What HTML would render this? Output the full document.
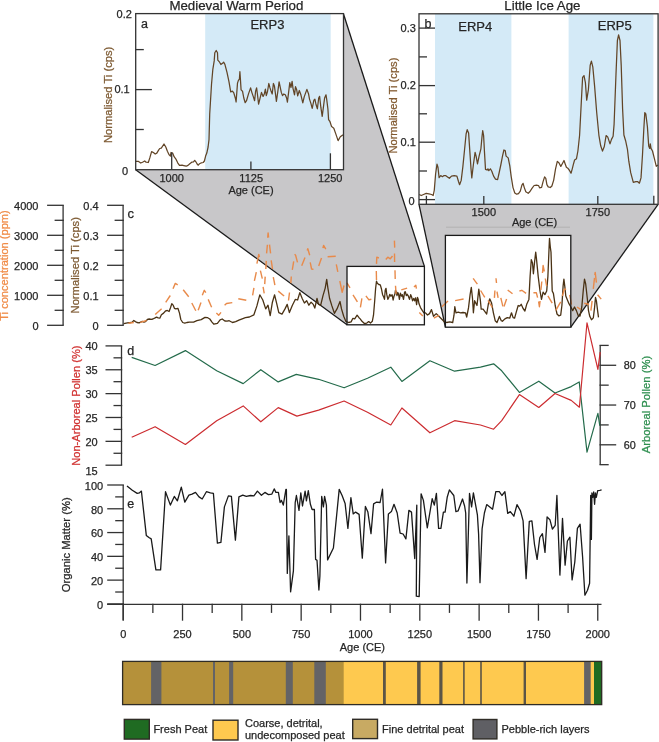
<!DOCTYPE html>
<html><head><meta charset="utf-8"><title>Figure</title>
<style>
html,body{margin:0;padding:0;background:#fff;}
svg{display:block;will-change:transform;}
text{font-family:"Liberation Sans",sans-serif;}
</style></head><body>
<svg width="659" height="742" viewBox="0 0 659 742">
<rect width="659" height="742" fill="#fff"/>

<polygon points="135.7,169.7 343.5,14 424.4,266.4 347,324.8" fill="#c8c7c9"/>
<polygon points="419,204.3 658.1,204.3 570.8,327.2 445.4,327.2" fill="#c8c7c9"/>
<line x1="135.7" y1="169.7" x2="347" y2="324.8" stroke="#1a1a1a" stroke-width="1.3"/>
<line x1="343.5" y1="14" x2="424.4" y2="266.4" stroke="#1a1a1a" stroke-width="1.3"/>
<line x1="419" y1="204.3" x2="445.4" y2="327.2" stroke="#1a1a1a" stroke-width="1.3"/>
<line x1="658.1" y1="204.3" x2="570.8" y2="327.2" stroke="#1a1a1a" stroke-width="1.3"/>
<line x1="446" y1="227.2" x2="570" y2="227.2" stroke="#b2b1b3" stroke-width="1"/>
<rect x="135.7" y="13.6" width="207.8" height="156.1" fill="#fff"/>
<rect x="205.2" y="13.6" width="125.5" height="156.1" fill="#d4eaf7"/>
<rect x="419" y="13.8" width="239.1" height="190.5" fill="#fff"/>
<rect x="435" y="13.8" width="76.4" height="190.5" fill="#d4eaf7"/>
<rect x="568.6" y="13.8" width="84.8" height="190.5" fill="#d4eaf7"/>
<rect x="347" y="266.4" width="77.4" height="58.4" fill="#fff"/>
<rect x="445.4" y="235.4" width="125.4" height="91.8" fill="#fff"/>
<polyline points="135.8,161.3 138.2,161.3 140.7,163.0 142.5,162.2 144.7,161.0 146.1,162.2 148.3,162.5 149.8,157.9 151.6,151.6 153.4,152.5 155.2,154.0 156.8,153.1 158.3,150.6 159.7,148.5 161.3,148.2 164.0,144.0 165.8,147.0 167.4,151.2 169.2,154.9 170.4,156.1 171.0,152.5 172.6,153.1 174.1,156.7 175.9,159.1 177.7,162.8 179.5,165.4 182.0,165.2 183.8,165.6 186.2,166.2 188.0,165.4 189.8,163.7 191.7,162.2 193.5,161.8 194.7,160.3 195.9,161.8 197.1,164.0 198.3,165.2 199.6,163.7 201.4,162.8 203.2,162.5 204.4,161.0 205.6,156.1 206.8,153.1 208.1,147.0 209.0,139.7 209.7,114.2 211.5,84.5 212.8,69.7 214.2,60.9 214.8,52.8 216.2,50.5 217.5,52.8 217.8,60.2 219.6,62.2 220.9,64.5 222.2,63.6 223.6,62.2 224.9,64.3 227.0,72.4 229.0,81.8 230.7,91.9 232.4,91.2 233.7,92.6 235.3,98.0 236.1,102.0 237.5,83.1 238.4,80.4 239.4,79.1 239.9,71.7 240.4,79.1 241.1,89.9 242.5,91.2 243.8,98.0 245.2,102.7 246.5,100.7 248.5,93.9 250.6,87.9 251.9,92.6 253.3,96.6 254.6,100.7 255.6,91.2 256.6,87.9 257.4,94.0 258.6,104.1 259.9,98.8 261.5,92.4 263.1,96.4 264.3,94.0 265.4,89.1 266.3,95.6 267.5,91.6 268.8,83.5 270.0,87.9 271.2,91.6 272.2,94.0 273.4,83.5 274.4,85.9 275.6,94.8 276.4,101.3 277.7,92.4 279.1,81.8 280.1,86.7 281.3,92.4 282.5,95.6 283.7,94.0 285.3,94.8 286.6,98.0 287.4,102.1 288.6,92.4 289.8,82.7 291.0,87.5 292.1,81.4 293.0,88.3 294.5,94.8 295.5,86.7 296.6,89.4 297.7,95.9 299.3,90.5 300.9,94.8 302.8,102.9 304.2,96.9 306.9,89.4 308.5,93.7 309.5,99.1 310.9,103.4 312.2,108.3 313.9,100.2 314.9,99.1 316.0,104.5 317.4,108.8 318.7,98.0 319.6,96.4 320.9,107.7 322.2,116.3 323.6,105.6 324.6,98.0 326.0,94.8 326.8,100.2 327.9,108.8 328.6,119.6 330.0,121.7 331.6,126.6 333.8,128.2 335.7,133.6 338.1,140.6 340.3,136.8 342.4,135.2 343.0,135.2" fill="none" stroke="#624527" stroke-width="1.25" stroke-linejoin="round"/>
<polyline points="419.2,194.5 421.3,195.5 423.5,194.5 426.2,193.4 428.9,193.9 431.6,194.5 433.2,195.5 434.3,190.1 435.6,174.0 437.0,164.2 438.0,167.5 439.1,177.7 440.7,175.6 442.4,176.7 444.0,175.6 445.6,175.6 447.2,176.7 449.4,178.3 451.5,176.1 454.2,175.6 456.9,176.1 458.5,181.5 459.6,184.7 461.2,180.4 462.9,166.4 464.5,150.2 466.1,134.0 467.2,129.7 468.6,132.9 469.9,152.4 471.0,168.6 471.8,177.9 473.4,164.5 475.1,152.4 476.1,156.1 477.5,163.9 479.1,156.1 480.9,148.8 481.9,137.9 482.7,130.6 483.6,135.5 484.5,152.4 485.5,169.4 487.0,170.0 487.9,168.8 488.8,170.6 490.4,168.8 491.8,171.2 493.6,176.1 495.5,179.1 497.6,179.7 499.1,173.0 500.9,164.5 502.5,156.1 503.9,150.0 505.2,150.6 506.1,156.1 508.2,157.9 509.8,165.8 511.2,176.7 513.0,187.6 514.8,193.0 516.7,194.2 518.5,193.6 520.3,191.2 521.9,185.2 523.1,183.3 524.3,187.6 525.8,191.8 528.2,193.3 530.0,191.5 531.8,188.7 534.1,185.5 536.4,185.1 538.5,185.5 539.6,187.8 541.6,187.4 543.0,181.9 544.6,176.9 545.8,178.3 546.9,184.6 548.2,186.9 550.3,187.5 551.9,186.0 553.7,180.1 555.5,169.1 557.3,161.4 558.9,162.8 560.8,166.4 562.3,163.7 564.0,160.5 565.1,163.7 566.4,167.3 567.8,168.2 569.2,170.0 571.0,173.2 572.2,169.1 573.3,164.6 574.6,160.0 576.5,158.7 577.9,151.0 579.6,135.3 581.4,100.2 582.6,77.4 584.0,75.6 585.4,82.6 586.7,100.2 588.4,89.6 590.2,65.1 591.4,61.2 592.8,66.8 594.6,86.1 596.7,112.5 598.9,135.3 600.7,145.8 602.5,151.1 604.3,146.5 606.1,135.6 607.7,136.9 610.0,143.9 611.5,139.4 613.1,136.2 614.1,124.1 616.0,73.9 617.4,40.5 618.6,34.9 620.0,40.5 621.2,65.1 622.6,108.9 623.9,135.0 625.6,140.7 627.5,149.7 628.8,161.2 630.7,172.7 633.3,182.3 635.9,181.7 637.8,181.7 639.4,183.2 641.0,177.9 642.5,154.8 643.8,129.2 644.8,112.6 645.8,113.8 647.4,126.6 648.7,145.9 649.7,148.4 650.3,143.9 651.0,148.4 652.5,151.0 654.4,158.7 656.3,166.3 657.9,165.1" fill="none" stroke="#624527" stroke-width="1.25" stroke-linejoin="round"/>
<polyline points="123.7,323.7 127.4,322.9 130.6,322.5 132.2,322.1 133.8,320.5 135.4,321.6 137.0,322.5 139.1,322.9 140.7,322.1 142.3,321.4 143.9,322.1 145.5,321.6 147.4,319.5 149.2,319.0 151.3,319.3 152.9,319.0 155.1,317.9 156.6,317.1 158.2,317.9 159.8,318.2 161.4,314.7 163.6,313.1 165.7,310.8 167.3,310.5 169.1,311.5 170.5,307.8 171.8,303.6 173.1,305.1 174.4,308.3 175.8,308.9 177.9,308.3 179.5,313.1 180.8,319.5 182.7,322.5 184.8,323.2 186.9,322.5 189.3,322.1 193.6,322.1 196.9,320.7 201.2,319.6 205.0,317.4 207.7,317.7 209.8,319.0 212.0,322.1 213.9,324.2 217.4,323.3 220.1,319.9 222.2,319.0 224.9,321.0 227.1,321.2 229.2,320.7 232.5,322.5 235.7,321.7 238.9,320.1 242.2,318.8 245.4,317.7 249.4,317.0 253.9,314.8 256.9,305.9 259.8,294.8 262.8,300.0 265.7,308.9 268.0,305.2 270.2,315.6 272.4,302.2 274.6,294.8 276.9,304.4 278.8,312.6 282.0,314.1 285.0,308.9 287.2,304.4 289.4,312.6 292.4,305.2 295.4,299.3 297.6,300.0 299.8,292.6 302.2,298.5 304.4,303.0 306.7,300.7 308.9,305.2 311.1,302.2 313.3,304.4 314.8,308.1 317.0,298.5 318.5,304.4 320.7,305.2 323.0,295.6 325.2,288.1 326.7,279.3 327.9,288.1 329.6,298.5 331.9,305.9 334.4,313.3 337.0,308.9 340.0,301.5 341.5,308.9 343.7,316.3 345.9,321.5 348.6,322.5 351.1,321.9 352.9,318.3 354.7,318.9 357.1,315.2 359.0,317.7 360.2,318.9 362.0,321.3 364.4,323.5 366.8,323.1 368.7,321.6 370.5,323.1 372.3,321.3 373.5,315.2 374.7,300.7 375.6,288.5 376.5,281.1 377.3,283.3 378.8,284.5 380.3,284.9 381.4,288.7 382.6,294.7 383.7,297.0 384.5,299.3 385.2,290.2 386.0,288.3 386.8,294.7 387.9,299.3 388.7,297.8 389.8,294.3 390.9,296.2 392.1,294.7 393.1,300.0 394.0,296.2 394.9,294.0 395.5,290.2 396.2,291.7 397.0,295.5 397.8,292.5 398.5,294.0 399.4,299.3 400.4,293.2 401.6,296.2 402.3,294.7 403.5,299.3 404.6,292.1 405.3,291.7 406.3,295.5 407.2,294.3 408.4,296.2 409.5,299.3 410.7,294.7 411.6,297.0 412.6,300.8 413.7,298.5 414.6,300.8 415.6,297.8 416.6,304.6 417.5,297.4 418.2,299.3 419.0,303.8 420.5,307.6 422.4,310.7 423.9,312.9 425.5,312.9 427.5,315.0 429.5,313.6 431.5,309.6 433.5,316.3 436.2,313.6 438.9,316.3 441.6,319.0 444.3,321.7 446.7,322.5 449.7,321.9 452.7,322.5 454.0,315.2 454.8,306.7 456.0,312.8 458.2,312.2 460.6,312.8 463.0,312.5 465.5,312.8 466.7,317.0 468.5,307.9 470.1,294.6 471.3,287.3 472.5,298.2 473.4,312.8 474.6,300.7 475.8,303.1 477.0,305.5 478.8,289.1 480.4,300.7 481.2,309.2 483.1,309.2 484.9,311.6 486.7,314.0 488.5,303.1 489.7,298.8 491.6,303.1 493.4,312.8 495.2,320.7 497.0,322.5 499.4,316.4 501.3,320.7 502.4,321.3 504.9,318.9 507.3,317.6 509.7,318.2 511.5,312.8 513.1,317.6 514.6,318.2 516.4,311.6 518.2,305.5 519.7,306.1 521.2,304.3 523.1,308.5 524.9,311.0 526.7,304.3 528.9,299.4 530.1,276.4 531.3,259.6 532.5,263.0 533.4,273.8 534.6,261.8 535.7,252.2 536.4,258.2 538.2,276.4 540.0,291.0 541.5,299.4 543.1,292.2 544.9,294.6 546.7,291.0 547.9,276.4 549.1,247.3 549.5,238.4 550.3,247.0 551.0,252.1 552.2,291.0 553.4,293.4 555.2,305.5 557.0,314.0 558.8,315.8 560.7,315.2 561.9,305.5 563.1,286.1 563.9,279.1 564.8,286.4 565.8,296.1 567.3,299.7 569.1,303.9 570.9,307.0 572.7,310.6 574.5,307.0 576.4,310.6 578.2,315.5 580.0,316.1 581.8,307.0 583.3,290.0 584.5,279.1 585.7,284.0 587.3,298.5 588.5,310.6 589.7,316.1 591.5,319.7 593.3,317.9 594.5,308.2 595.5,297.3 596.4,300.9 597.6,310.6 598.5,317.3" fill="none" stroke="#4a3214" stroke-width="1.3" stroke-linejoin="round"/>
<g fill="none" stroke="#e88a4a" stroke-width="1.4" stroke-linejoin="round">
<polyline points="128.4,323.3 133.8,322.5"/>
<polyline points="140.2,322.4 146.6,320.5"/>
<polyline points="155.2,314.6 161.6,308.7"/>
<polyline points="165.7,302.3 170.3,295.5"/>
<polyline points="173.0,288.7 175.3,283.4 177.7,284.8"/>
<polyline points="183.2,289.8 188.7,296.7"/>
<polyline points="191.8,303.0 195.8,310.8"/>
<polyline points="198.2,310.3 201.0,302.6"/>
<polyline points="202.3,295.3 204.3,290.3 205.8,292.6"/>
<polyline points="208.2,299.4 211.6,307.3"/>
<polyline points="216.4,313.1 218.7,315.3 221.0,312.4"/>
<polyline points="224.6,305.3 226.5,303.5 232.3,302.6"/>
<polyline points="238.3,298.7 246.3,300.3"/>
<polyline points="252.6,295.4 253.9,287.9"/>
<polyline points="254.4,280.9 256.3,272.2"/>
<polyline points="256.9,263.6 258.8,254.4 259.5,257.1"/>
<polyline points="260.4,270.6 262.3,278.7"/>
<polyline points="263.1,286.8 264.2,293.3"/>
<polyline points="264.7,284.1 265.2,276.6"/>
<polyline points="265.8,269.0 266.3,260.9"/>
<polyline points="266.6,253.4 267.4,244.7"/>
<polyline points="267.7,237.7 268.1,232.9 268.6,237.5"/>
<polyline points="269.5,244.7 270.6,253.4"/>
<polyline points="271.2,260.4 272.5,269.0"/>
<polyline points="273.3,277.1 274.9,285.2"/>
<polyline points="278.2,291.1 284.1,296.0"/>
<polyline points="288.5,300.5 289.5,292.5"/>
<polyline points="290.8,283.1 291.3,276.5"/>
<polyline points="292.3,269.9 293.7,261.4"/>
<polyline points="294.6,254.3 295.6,255.3 297.5,262.4"/>
<polyline points="301.7,265.7 305.0,257.6"/>
<polyline points="307.2,250.5 307.8,248.7 309.7,255.3"/>
<polyline points="310.2,262.4 311.6,269.0 313.5,269.4"/>
<polyline points="318.7,266.1 321.5,258.1"/>
<polyline points="322.9,248.2 323.6,245.4 325.8,249.2"/>
<polyline points="327.6,256.7 335.7,256.2"/>
<polyline points="336.3,264.4 337.8,271.9"/>
<polyline points="339.8,281.0 342.2,292.3 344.0,285.5"/>
<polyline points="347.0,282.9 350.0,287.8"/>
<polyline points="353.0,294.8 357.4,301.8"/>
<polyline points="360.4,307.3 361.9,298.3"/>
<polyline points="365.9,295.8 368.9,299.8 371.4,299.3"/>
<polyline points="376.3,270.9 376.5,279.9"/>
<polyline points="376.5,263.9 376.8,257.2 378.9,258.0"/>
<polyline points="385.8,259.5 387.8,257.2 390.3,258.8 392.5,256.0"/>
<polyline points="394.4,240.6 394.7,247.6"/>
<polyline points="394.5,253.4 394.6,262.0"/>
<polyline points="395.0,270.2 395.2,278.9"/>
<polyline points="395.5,285.8 396.1,293.9"/>
<polyline points="401.3,289.9 407.1,288.1"/>
<polyline points="414.0,287.0 415.8,285.2 416.4,288.7"/>
<polyline points="419.3,312.5 422.8,315.9"/>
<polyline points="433.8,318.2 439.0,315.3"/>
<polyline points="441.9,306.7 448.0,300.9"/>
<polyline points="455.1,300.6 463.6,299.0"/>
<polyline points="473.1,278.3 477.4,284.1"/>
<polyline points="480.6,290.5 484.8,297.4"/>
<polyline points="488.0,300.5 492.3,307.5"/>
<polyline points="494.4,297.9 494.9,290.5"/>
<polyline points="496.0,278.3 496.5,283.0"/>
<polyline points="497.0,291.6 498.1,297.9"/>
<polyline points="500.8,297.9 502.9,306.4"/>
<polyline points="504.0,306.4 506.6,299.0"/>
<polyline points="507.7,290.0 512.5,293.7"/>
<polyline points="519.4,291.0 521.8,290.3 526.1,293.4"/>
<polyline points="533.4,292.8 536.4,292.8 537.6,297.6"/>
<polyline points="538.6,301.5 539.4,306.7 540.1,301.0"/>
<polyline points="540.9,290.0 541.8,281.5"/>
<polyline points="542.5,273.0 543.1,265.5 544.3,271.5"/>
<polyline points="545.3,278.5 546.6,286.0"/>
<polyline points="547.9,295.8 552.2,303.1"/>
<polyline points="555.8,310.4 560.7,301.9"/>
<polyline points="562.4,296.0 564.2,289.5 566.1,288.8"/>
<polyline points="569.7,294.8 571.5,304.5"/>
<polyline points="577.0,307.0 580.6,309.4"/>
<polyline points="584.2,303.3 589.1,304.5"/>
<polyline points="590.9,310.6 592.1,300.9"/>
<polyline points="593.3,288.8 594.5,277.9"/>
<polyline points="594.8,275.0 595.2,272.4 596.4,282.7"/>
<polyline points="597.6,294.8 601.2,299.1"/>
</g>
<rect x="135.7" y="13.6" width="207.8" height="156.1" fill="none" stroke="#333333" stroke-width="1.3"/>
<rect x="419" y="13.8" width="239.1" height="190.5" fill="none" stroke="#333333" stroke-width="1.3"/>
<rect x="347" y="266.4" width="77.4" height="58.4" fill="none" stroke="#1a1a1a" stroke-width="1.3"/>
<rect x="445.4" y="235.4" width="125.4" height="91.8" fill="none" stroke="#1a1a1a" stroke-width="1.3"/>
<line x1="135.7" y1="49.6" x2="143.8" y2="49.6" stroke="#333333" stroke-width="1.3"/>
<line x1="135.7" y1="89.6" x2="151.9" y2="89.6" stroke="#333333" stroke-width="1.3"/>
<line x1="135.7" y1="129.5" x2="143.8" y2="129.5" stroke="#333333" stroke-width="1.3"/>
<line x1="171.7" y1="169.7" x2="171.7" y2="152.5" stroke="#333333" stroke-width="1.3"/>
<line x1="250.9" y1="169.7" x2="250.9" y2="161.5" stroke="#333333" stroke-width="1.3"/>
<line x1="330.4" y1="169.7" x2="330.4" y2="153.3" stroke="#333333" stroke-width="1.3"/>
<text x="131.9" y="17.5" font-size="11" text-anchor="end" style="fill:#262626;stroke:#262626;stroke-width:0.25">0.2</text>
<text x="129.7" y="92.6" font-size="11" text-anchor="end" style="fill:#262626;stroke:#262626;stroke-width:0.25">0.1</text>
<text x="128" y="175.3" font-size="11" text-anchor="end" style="fill:#262626;stroke:#262626;stroke-width:0.25">0</text>
<text x="171.7" y="182.1" font-size="11" text-anchor="middle" style="fill:#262626;stroke:#262626;stroke-width:0.25">1000</text>
<text x="251.2" y="181.5" font-size="11" text-anchor="middle" style="fill:#262626;stroke:#262626;stroke-width:0.25">1125</text>
<text x="330.2" y="181.5" font-size="11" text-anchor="middle" style="fill:#262626;stroke:#262626;stroke-width:0.25">1250</text>
<text x="251" y="193.6" font-size="11" text-anchor="middle" style="fill:#262626;stroke:#262626;stroke-width:0.25">Age (CE)</text>
<text x="141" y="27.6" font-size="12.5" text-anchor="start" style="fill:#262626;stroke:#262626;stroke-width:0.25">a</text>
<text x="236.4" y="9.6" font-size="13.3" text-anchor="middle" style="fill:#262626;stroke:#262626;stroke-width:0.25">Medieval Warm Period</text>
<text x="267.4" y="28.6" font-size="13" text-anchor="middle" style="fill:#262626;stroke:#262626;stroke-width:0.25">ERP3</text>
<text x="111.9" y="94.85" font-size="11.2" text-anchor="middle" style="fill:#7d5a32;stroke:#7d5a32;stroke-width:0.25" transform="rotate(-90 111.9 94.85)">Normalised Ti (cps)</text>
<line x1="419" y1="28.1" x2="435" y2="28.1" stroke="#333333" stroke-width="1.3"/>
<line x1="419" y1="56.9" x2="427" y2="56.9" stroke="#333333" stroke-width="1.3"/>
<line x1="419" y1="85.6" x2="435" y2="85.6" stroke="#333333" stroke-width="1.3"/>
<line x1="419" y1="113.8" x2="427" y2="113.8" stroke="#333333" stroke-width="1.3"/>
<line x1="419" y1="142.2" x2="435" y2="142.2" stroke="#333333" stroke-width="1.3"/>
<line x1="419" y1="171" x2="427" y2="171" stroke="#333333" stroke-width="1.3"/>
<line x1="419" y1="199.6" x2="435" y2="199.6" stroke="#333333" stroke-width="1.3"/>
<line x1="426.4" y1="204.3" x2="426.4" y2="195.8" stroke="#333333" stroke-width="1.3"/>
<line x1="483.8" y1="204.3" x2="483.8" y2="196" stroke="#333333" stroke-width="1.3"/>
<line x1="597.8" y1="204.3" x2="597.8" y2="196" stroke="#333333" stroke-width="1.3"/>
<line x1="653.8" y1="204.3" x2="653.8" y2="195.8" stroke="#333333" stroke-width="1.3"/>
<text x="415.9" y="32" font-size="11" text-anchor="end" style="fill:#262626;stroke:#262626;stroke-width:0.25">0.3</text>
<text x="415.9" y="89.4" font-size="11" text-anchor="end" style="fill:#262626;stroke:#262626;stroke-width:0.25">0.2</text>
<text x="415.9" y="146" font-size="11" text-anchor="end" style="fill:#262626;stroke:#262626;stroke-width:0.25">0.1</text>
<text x="414.7" y="204.7" font-size="11" text-anchor="end" style="fill:#262626;stroke:#262626;stroke-width:0.25">0</text>
<text x="483.8" y="215.8" font-size="11" text-anchor="middle" style="fill:#262626;stroke:#262626;stroke-width:0.25">1500</text>
<text x="597.8" y="215.8" font-size="11" text-anchor="middle" style="fill:#262626;stroke:#262626;stroke-width:0.25">1750</text>
<text x="534.5" y="225.6" font-size="11" text-anchor="middle" style="fill:#262626;stroke:#262626;stroke-width:0.25">Age (CE)</text>
<text x="424.6" y="27.9" font-size="12.5" text-anchor="start" style="fill:#262626;stroke:#262626;stroke-width:0.25">b</text>
<text x="475.3" y="31.2" font-size="13" text-anchor="middle" style="fill:#262626;stroke:#262626;stroke-width:0.25">ERP4</text>
<text x="614.8" y="29.6" font-size="13" text-anchor="middle" style="fill:#262626;stroke:#262626;stroke-width:0.25">ERP5</text>
<text x="542.4" y="9.5" font-size="13.3" text-anchor="middle" style="fill:#262626;stroke:#262626;stroke-width:0.25">Little Ice Age</text>
<text x="397" y="105.6" font-size="11.15" text-anchor="middle" style="fill:#825a30;stroke:#825a30;stroke-width:0.25" transform="rotate(-90 397 105.6)">Normalised Ti (cps)</text>
<line x1="63.1" y1="205.3" x2="63.1" y2="325.2" stroke="#333333" stroke-width="1.3"/>
<line x1="123.1" y1="205.3" x2="123.1" y2="325.2" stroke="#333333" stroke-width="1.3"/>
<line x1="47.1" y1="205.3" x2="63.8" y2="205.3" stroke="#333333" stroke-width="1.3"/>
<line x1="107.1" y1="205.3" x2="123.8" y2="205.3" stroke="#333333" stroke-width="1.3"/>
<line x1="54.6" y1="220.3" x2="63.8" y2="220.3" stroke="#333333" stroke-width="1.3"/>
<line x1="114.6" y1="220.3" x2="123.8" y2="220.3" stroke="#333333" stroke-width="1.3"/>
<line x1="47.1" y1="235.3" x2="63.8" y2="235.3" stroke="#333333" stroke-width="1.3"/>
<line x1="107.1" y1="235.3" x2="123.8" y2="235.3" stroke="#333333" stroke-width="1.3"/>
<line x1="54.6" y1="250.3" x2="63.8" y2="250.3" stroke="#333333" stroke-width="1.3"/>
<line x1="114.6" y1="250.3" x2="123.8" y2="250.3" stroke="#333333" stroke-width="1.3"/>
<line x1="47.1" y1="265.3" x2="63.8" y2="265.3" stroke="#333333" stroke-width="1.3"/>
<line x1="107.1" y1="265.3" x2="123.8" y2="265.3" stroke="#333333" stroke-width="1.3"/>
<line x1="54.6" y1="280.3" x2="63.8" y2="280.3" stroke="#333333" stroke-width="1.3"/>
<line x1="114.6" y1="280.3" x2="123.8" y2="280.3" stroke="#333333" stroke-width="1.3"/>
<line x1="47.1" y1="295.3" x2="63.8" y2="295.3" stroke="#333333" stroke-width="1.3"/>
<line x1="107.1" y1="295.3" x2="123.8" y2="295.3" stroke="#333333" stroke-width="1.3"/>
<line x1="54.6" y1="310.3" x2="63.8" y2="310.3" stroke="#333333" stroke-width="1.3"/>
<line x1="114.6" y1="310.3" x2="123.8" y2="310.3" stroke="#333333" stroke-width="1.3"/>
<line x1="47.1" y1="325.3" x2="63.8" y2="325.3" stroke="#333333" stroke-width="1.3"/>
<line x1="107.1" y1="325.3" x2="123.8" y2="325.3" stroke="#333333" stroke-width="1.3"/>
<text x="38.5" y="209.5" font-size="11" text-anchor="end" style="fill:#262626;stroke:#262626;stroke-width:0.25">4000</text>
<text x="98.6" y="209.5" font-size="11" text-anchor="end" style="fill:#262626;stroke:#262626;stroke-width:0.25">0.4</text>
<text x="38.5" y="239.5" font-size="11" text-anchor="end" style="fill:#262626;stroke:#262626;stroke-width:0.25">3000</text>
<text x="98.6" y="239.5" font-size="11" text-anchor="end" style="fill:#262626;stroke:#262626;stroke-width:0.25">0.3</text>
<text x="38.5" y="269.5" font-size="11" text-anchor="end" style="fill:#262626;stroke:#262626;stroke-width:0.25">2000</text>
<text x="98.6" y="269.5" font-size="11" text-anchor="end" style="fill:#262626;stroke:#262626;stroke-width:0.25">0.2</text>
<text x="38.5" y="299.5" font-size="11" text-anchor="end" style="fill:#262626;stroke:#262626;stroke-width:0.25">1000</text>
<text x="98.6" y="299.5" font-size="11" text-anchor="end" style="fill:#262626;stroke:#262626;stroke-width:0.25">0.1</text>
<text x="38.5" y="329.5" font-size="11" text-anchor="end" style="fill:#262626;stroke:#262626;stroke-width:0.25">0</text>
<text x="98.6" y="329.5" font-size="11" text-anchor="end" style="fill:#262626;stroke:#262626;stroke-width:0.25">0</text>
<text x="8.3" y="265.5" font-size="11.1" text-anchor="middle" style="fill:#f08c48;stroke:#f08c48;stroke-width:0.25" transform="rotate(-90 8.3 265.5)">Ti concentration (ppm)</text>
<text x="78.5" y="265.25" font-size="11.2" text-anchor="middle" style="fill:#7d5a32;stroke:#7d5a32;stroke-width:0.25" transform="rotate(-90 78.5 265.25)">Normalised Ti (cps)</text>
<text x="127.4" y="217.6" font-size="13" text-anchor="start" style="fill:#262626;stroke:#262626;stroke-width:0.25">c</text>
<line x1="121.5" y1="345.9" x2="121.5" y2="465.2" stroke="#333333" stroke-width="1.3"/>
<line x1="105.5" y1="345.9" x2="122.2" y2="345.9" stroke="#333333" stroke-width="1.3"/>
<line x1="113.5" y1="357.83" x2="122.2" y2="357.83" stroke="#333333" stroke-width="1.3"/>
<line x1="105.5" y1="369.76" x2="122.2" y2="369.76" stroke="#333333" stroke-width="1.3"/>
<line x1="113.5" y1="381.69" x2="122.2" y2="381.69" stroke="#333333" stroke-width="1.3"/>
<line x1="105.5" y1="393.62" x2="122.2" y2="393.62" stroke="#333333" stroke-width="1.3"/>
<line x1="113.5" y1="405.54999999999995" x2="122.2" y2="405.54999999999995" stroke="#333333" stroke-width="1.3"/>
<line x1="105.5" y1="417.47999999999996" x2="122.2" y2="417.47999999999996" stroke="#333333" stroke-width="1.3"/>
<line x1="113.5" y1="429.40999999999997" x2="122.2" y2="429.40999999999997" stroke="#333333" stroke-width="1.3"/>
<line x1="105.5" y1="441.34" x2="122.2" y2="441.34" stroke="#333333" stroke-width="1.3"/>
<line x1="113.5" y1="453.27" x2="122.2" y2="453.27" stroke="#333333" stroke-width="1.3"/>
<line x1="105.5" y1="465.2" x2="122.2" y2="465.2" stroke="#333333" stroke-width="1.3"/>
<text x="97.7" y="350.09999999999997" font-size="11" text-anchor="end" style="fill:#262626;stroke:#262626;stroke-width:0.25">40</text>
<text x="97.7" y="373.96" font-size="11" text-anchor="end" style="fill:#262626;stroke:#262626;stroke-width:0.25">35</text>
<text x="97.7" y="397.82" font-size="11" text-anchor="end" style="fill:#262626;stroke:#262626;stroke-width:0.25">30</text>
<text x="97.7" y="421.67999999999995" font-size="11" text-anchor="end" style="fill:#262626;stroke:#262626;stroke-width:0.25">25</text>
<text x="97.7" y="445.53999999999996" font-size="11" text-anchor="end" style="fill:#262626;stroke:#262626;stroke-width:0.25">20</text>
<text x="97.7" y="475.4" font-size="11" text-anchor="end" style="fill:#262626;stroke:#262626;stroke-width:0.25">15</text>
<line x1="600.2" y1="345.4" x2="600.2" y2="464.7" stroke="#333333" stroke-width="1.3"/>
<line x1="599.5" y1="345.4" x2="608.7" y2="345.4" stroke="#333333" stroke-width="1.3"/>
<line x1="599.5" y1="365.28" x2="616.2" y2="365.28" stroke="#333333" stroke-width="1.3"/>
<line x1="599.5" y1="385.15999999999997" x2="608.7" y2="385.15999999999997" stroke="#333333" stroke-width="1.3"/>
<line x1="599.5" y1="405.03999999999996" x2="616.2" y2="405.03999999999996" stroke="#333333" stroke-width="1.3"/>
<line x1="599.5" y1="424.91999999999996" x2="608.7" y2="424.91999999999996" stroke="#333333" stroke-width="1.3"/>
<line x1="599.5" y1="444.79999999999995" x2="616.2" y2="444.79999999999995" stroke="#333333" stroke-width="1.3"/>
<line x1="599.5" y1="464.67999999999995" x2="608.7" y2="464.67999999999995" stroke="#333333" stroke-width="1.3"/>
<text x="623.7" y="369.40000000000003" font-size="10.8" text-anchor="start" style="fill:#262626;stroke:#262626;stroke-width:0.25">80</text>
<text x="623.7" y="409.35" font-size="10.8" text-anchor="start" style="fill:#262626;stroke:#262626;stroke-width:0.25">70</text>
<text x="623.7" y="449.30000000000007" font-size="10.8" text-anchor="start" style="fill:#262626;stroke:#262626;stroke-width:0.25">60</text>
<text x="79.8" y="405.6" font-size="11.1" text-anchor="middle" style="fill:#d0302f;stroke:#d0302f;stroke-width:0.25" transform="rotate(-90 79.8 405.6)">Non-Arboreal Pollen (%)</text>
<text x="650.3" y="404.55" font-size="11.25" text-anchor="middle" style="fill:#2f8f50;stroke:#2f8f50;stroke-width:0.25" transform="rotate(-90 650.3 404.55)">Arboreal Pollen (%)</text>
<text x="127.2" y="354.8" font-size="12.5" text-anchor="start" style="fill:#262626;stroke:#262626;stroke-width:0.25">d</text>
<polyline points="131.7,357.4 155.1,365.5 185.4,350.6 216.7,370.8 243.2,383.6 260.8,369.7 278.2,381.9 296.3,374.4 318.6,379.3 344.1,387.8 367.5,378.2 390.8,367.2 401.9,381.4 429.9,360.8 454.6,371.2 480.5,367.2 493.6,363.8 501.7,370.8 519.4,392.4 538.8,381.2 555.0,393.0 571.2,386.6 579.2,381.9 587.0,452.1 597.9,413.4 599.8,425.7" fill="none" stroke="#246b4b" stroke-width="1.2" stroke-linejoin="round"/>
<polyline points="131.7,437.3 155.1,426.7 185.4,444.5 216.7,420.7 243.2,405.9 260.8,421.8 278.2,407.6 296.9,416.1 318.6,410.1 344.1,401.0 367.5,412.2 390.8,425.0 401.9,408.0 429.9,432.8 454.6,420.7 480.5,425.0 493.6,429.2 501.7,420.7 519.4,394.6 538.8,407.5 555.0,393.5 571.2,400.4 579.4,407.2 587.0,322.8 597.9,369.4 600.2,352.1" fill="none" stroke="#cc2c30" stroke-width="1.2" stroke-linejoin="round"/>
<line x1="123.2" y1="485" x2="123.2" y2="620.3" stroke="#333333" stroke-width="1.3"/>
<line x1="107.1" y1="604.3" x2="601.5" y2="604.3" stroke="#333333" stroke-width="1.3"/>
<line x1="107.2" y1="485.0" x2="123.9" y2="485.0" stroke="#333333" stroke-width="1.3"/>
<line x1="115.2" y1="496.89" x2="123.9" y2="496.89" stroke="#333333" stroke-width="1.3"/>
<line x1="107.2" y1="508.78" x2="123.9" y2="508.78" stroke="#333333" stroke-width="1.3"/>
<line x1="115.2" y1="520.67" x2="123.9" y2="520.67" stroke="#333333" stroke-width="1.3"/>
<line x1="107.2" y1="532.56" x2="123.9" y2="532.56" stroke="#333333" stroke-width="1.3"/>
<line x1="115.2" y1="544.45" x2="123.9" y2="544.45" stroke="#333333" stroke-width="1.3"/>
<line x1="107.2" y1="556.34" x2="123.9" y2="556.34" stroke="#333333" stroke-width="1.3"/>
<line x1="115.2" y1="568.23" x2="123.9" y2="568.23" stroke="#333333" stroke-width="1.3"/>
<line x1="107.2" y1="580.12" x2="123.9" y2="580.12" stroke="#333333" stroke-width="1.3"/>
<line x1="115.2" y1="592.01" x2="123.9" y2="592.01" stroke="#333333" stroke-width="1.3"/>
<line x1="107.2" y1="603.9" x2="123.9" y2="603.9" stroke="#333333" stroke-width="1.3"/>
<text x="103.2" y="489.8" font-size="11" text-anchor="end" style="fill:#262626;stroke:#262626;stroke-width:0.25">100</text>
<text x="103.2" y="513.58" font-size="11" text-anchor="end" style="fill:#262626;stroke:#262626;stroke-width:0.25">80</text>
<text x="103.2" y="537.36" font-size="11" text-anchor="end" style="fill:#262626;stroke:#262626;stroke-width:0.25">60</text>
<text x="103.2" y="561.14" font-size="11" text-anchor="end" style="fill:#262626;stroke:#262626;stroke-width:0.25">40</text>
<text x="103.2" y="584.92" font-size="11" text-anchor="end" style="fill:#262626;stroke:#262626;stroke-width:0.25">20</text>
<text x="103.2" y="608.7" font-size="11" text-anchor="end" style="fill:#262626;stroke:#262626;stroke-width:0.25">0</text>
<line x1="123.2" y1="603.7" x2="123.2" y2="620.6999999999999" stroke="#333333" stroke-width="1.3"/>
<line x1="152.86" y1="603.7" x2="152.86" y2="612.9" stroke="#333333" stroke-width="1.3"/>
<line x1="182.52" y1="603.7" x2="182.52" y2="620.6999999999999" stroke="#333333" stroke-width="1.3"/>
<line x1="212.18" y1="603.7" x2="212.18" y2="612.9" stroke="#333333" stroke-width="1.3"/>
<line x1="241.84" y1="603.7" x2="241.84" y2="620.6999999999999" stroke="#333333" stroke-width="1.3"/>
<line x1="271.5" y1="603.7" x2="271.5" y2="612.9" stroke="#333333" stroke-width="1.3"/>
<line x1="301.16" y1="603.7" x2="301.16" y2="620.6999999999999" stroke="#333333" stroke-width="1.3"/>
<line x1="330.82" y1="603.7" x2="330.82" y2="612.9" stroke="#333333" stroke-width="1.3"/>
<line x1="360.48" y1="603.7" x2="360.48" y2="620.6999999999999" stroke="#333333" stroke-width="1.3"/>
<line x1="390.14" y1="603.7" x2="390.14" y2="612.9" stroke="#333333" stroke-width="1.3"/>
<line x1="419.8" y1="603.7" x2="419.8" y2="620.6999999999999" stroke="#333333" stroke-width="1.3"/>
<line x1="449.46" y1="603.7" x2="449.46" y2="612.9" stroke="#333333" stroke-width="1.3"/>
<line x1="479.12" y1="603.7" x2="479.12" y2="620.6999999999999" stroke="#333333" stroke-width="1.3"/>
<line x1="508.78" y1="603.7" x2="508.78" y2="612.9" stroke="#333333" stroke-width="1.3"/>
<line x1="538.44" y1="603.7" x2="538.44" y2="620.6999999999999" stroke="#333333" stroke-width="1.3"/>
<line x1="568.1" y1="603.7" x2="568.1" y2="612.9" stroke="#333333" stroke-width="1.3"/>
<line x1="597.76" y1="603.7" x2="597.76" y2="620.6999999999999" stroke="#333333" stroke-width="1.3"/>
<text x="123.2" y="638.2" font-size="11" text-anchor="middle" style="fill:#262626;stroke:#262626;stroke-width:0.25">0</text>
<text x="182.52" y="638.2" font-size="11" text-anchor="middle" style="fill:#262626;stroke:#262626;stroke-width:0.25">250</text>
<text x="241.84" y="638.2" font-size="11" text-anchor="middle" style="fill:#262626;stroke:#262626;stroke-width:0.25">500</text>
<text x="301.16" y="638.2" font-size="11" text-anchor="middle" style="fill:#262626;stroke:#262626;stroke-width:0.25">750</text>
<text x="360.48" y="638.2" font-size="11" text-anchor="middle" style="fill:#262626;stroke:#262626;stroke-width:0.25">1000</text>
<text x="419.8" y="638.2" font-size="11" text-anchor="middle" style="fill:#262626;stroke:#262626;stroke-width:0.25">1250</text>
<text x="479.12" y="638.2" font-size="11" text-anchor="middle" style="fill:#262626;stroke:#262626;stroke-width:0.25">1500</text>
<text x="538.44" y="638.2" font-size="11" text-anchor="middle" style="fill:#262626;stroke:#262626;stroke-width:0.25">1750</text>
<text x="597.76" y="638.2" font-size="11" text-anchor="middle" style="fill:#262626;stroke:#262626;stroke-width:0.25">2000</text>
<text x="362.4" y="651.2" font-size="11" text-anchor="middle" style="fill:#262626;stroke:#262626;stroke-width:0.25">Age (CE)</text>
<text x="69.6" y="544.85" font-size="11.25" text-anchor="middle" style="fill:#262626;stroke:#262626;stroke-width:0.25" transform="rotate(-90 69.6 544.85)">Organic Matter (%)</text>
<text x="127.2" y="508" font-size="12.5" text-anchor="start" style="fill:#262626;stroke:#262626;stroke-width:0.25">e</text>
<polyline points="127.0,485.9 132.3,490.3 137.2,493.4 139.3,492.9 141.4,491.1 146.3,535.4 148.9,537.5 151.2,538.9 155.9,569.9 160.6,569.9 165.5,491.7 170.4,505.1 174.3,496.4 177.4,500.8 181.3,487.1 184.8,502.2 188.9,495.2 192.0,494.1 195.5,492.4 199.0,496.9 202.2,499.0 206.4,491.7 210.4,492.9 213.4,493.4 217.4,543.1 220.9,542.4 224.4,506.9 228.4,495.9 231.4,496.4 235.4,540.1 238.9,496.9 242.8,495.2 246.3,496.4 250.6,495.5 253.9,495.9 257.4,491.1 261.4,495.2 264.9,492.4 268.4,494.6 271.9,494.1 274.2,488.9 275.9,492.4 278.4,492.4 280.1,502.5 281.5,500.4 283.3,505.1 285.9,489.4 286.4,489.4 287.3,573.4 288.9,535.8 290.6,591.8 293.4,570.8 295.2,502.5 296.4,495.5 299.0,510.4 300.8,492.9 302.5,506.0 305.1,491.1 306.4,500.8 308.3,490.6 310.4,504.3 312.1,509.5 314.4,509.5 315.6,559.4 317.0,560.3 318.9,590.0 319.9,576.0 321.7,496.4 323.4,506.9 324.6,496.4 326.4,505.1 327.6,559.9 333.4,548.0 339.2,489.4 342.1,495.5 345.1,503.4 347.9,528.4 350.9,497.6 353.2,513.9 355.6,512.1 359.1,514.4 362.3,558.2 365.4,506.4 367.9,512.1 371.0,533.7 373.6,503.9 376.3,502.2 380.1,502.5 382.5,489.2 385.6,562.9 388.4,513.9 391.4,511.6 394.0,504.3 397.2,513.0 400.1,533.1 403.1,534.0 405.9,538.9 408.9,510.4 411.5,512.1 414.7,558.5 416.8,505.1 416.3,596.2 419.2,596.5 421.1,493.8 423.4,500.4 427.3,527.9 432.2,498.7 434.3,505.1 436.4,493.4 438.6,528.4 440.9,528.4 443.4,512.1 445.1,512.1 447.2,497.3 449.4,489.9 453.8,495.5 455.9,511.6 458.1,510.9 462.5,499.0 464.6,506.0 465.7,513.0 466.9,583.0 469.5,493.4 471.6,506.9 473.4,492.9 477.4,514.8 478.6,534.0 480.0,582.7 482.1,528.8 484.4,513.0 486.7,504.6 492.6,509.2 495.8,491.7 499.3,491.7 501.9,495.5 504.9,491.7 507.7,513.4 510.3,511.6 513.9,516.2 517.0,504.6 520.5,510.9 523.1,520.9 526.1,578.6 529.3,521.4 531.9,520.9 534.5,544.5 537.1,559.4 539.8,537.5 542.4,533.7 545.0,552.4 547.1,516.9 549.9,519.7 552.4,529.1 555.2,525.3 556.9,495.5 559.9,575.1 562.5,518.3 565.1,565.2 567.4,541.0 569.9,537.2 572.1,579.9 574.8,562.0 577.4,528.4 580.1,524.2 582.6,557.0 584.9,595.2 587.5,590.3 589.6,583.3 590.7,495.5 591.4,539.4 591.9,492.9 592.8,497.3 593.7,492.0 594.6,504.3 595.4,492.9 596.3,497.3 597.7,490.6 599.8,490.3 601.6,489.9" fill="none" stroke="#1a1a1a" stroke-width="1.3" stroke-linejoin="round"/>
<rect x="122.6" y="661.4" width="479.1" height="43.2" fill="#b5913a"/>
<rect x="343.7" y="661.4" width="250.3" height="43.2" fill="#fec94f"/>
<rect x="151.1" y="661.4" width="10.3" height="43.2" fill="#636366"/>
<rect x="213" y="661.4" width="2.0" height="43.2" fill="#636366"/>
<rect x="229.1" y="661.4" width="4.1" height="43.2" fill="#636366"/>
<rect x="285.8" y="661.4" width="7.0" height="43.2" fill="#636366"/>
<rect x="314.3" y="661.4" width="11.5" height="43.2" fill="#636366"/>
<rect x="383" y="661.4" width="2.8" height="43.2" fill="#5c5546"/>
<rect x="417.1" y="661.4" width="3.5" height="43.2" fill="#5c5546"/>
<rect x="439.3" y="661.4" width="3.2" height="43.2" fill="#5c5546"/>
<rect x="463.1" y="661.4" width="1.6" height="43.2" fill="#5c5546"/>
<rect x="480.2" y="661.4" width="1.6" height="43.2" fill="#5c5546"/>
<rect x="523.6" y="661.4" width="2.4" height="43.2" fill="#5c5546"/>
<rect x="584.1" y="661.4" width="6.6" height="43.2" fill="#636366"/>
<rect x="594" y="661.4" width="7.7" height="43.2" fill="#1f6b22"/>
<rect x="122.6" y="661.4" width="479.1" height="43.2" fill="none" stroke="#2f2c26" stroke-width="1.3"/>
<rect x="124.3" y="719.4" width="25" height="19.7" fill="#1f6b22" stroke="#2f2c26" stroke-width="1.4"/>
<text x="153.4" y="733" font-size="11" text-anchor="start" style="fill:#262626;stroke:#262626;stroke-width:0.25">Fresh Peat</text>
<rect x="213" y="720.2" width="25" height="19.8" fill="#fec94f" stroke="#2f2c26" stroke-width="1.4"/>
<text x="245" y="727.3" font-size="11" text-anchor="start" style="fill:#262626;stroke:#262626;stroke-width:0.25">Coarse, detrital,</text>
<text x="245" y="739.1" font-size="11" text-anchor="start" style="fill:#262626;stroke:#262626;stroke-width:0.25">undecomposed peat</text>
<rect x="352.7" y="719.3" width="24.8" height="19.3" fill="#c8aa63" stroke="#2f2c26" stroke-width="1.4"/>
<text x="382.1" y="733.4" font-size="11" text-anchor="start" style="fill:#262626;stroke:#262626;stroke-width:0.25">Fine detrital peat</text>
<rect x="473.1" y="719.5" width="23.8" height="19.4" fill="#5f5f64" stroke="#2f2c26" stroke-width="1.4"/>
<text x="501.5" y="733.2" font-size="11" text-anchor="start" style="fill:#262626;stroke:#262626;stroke-width:0.25">Pebble-rich layers</text>
</svg>
</body></html>
